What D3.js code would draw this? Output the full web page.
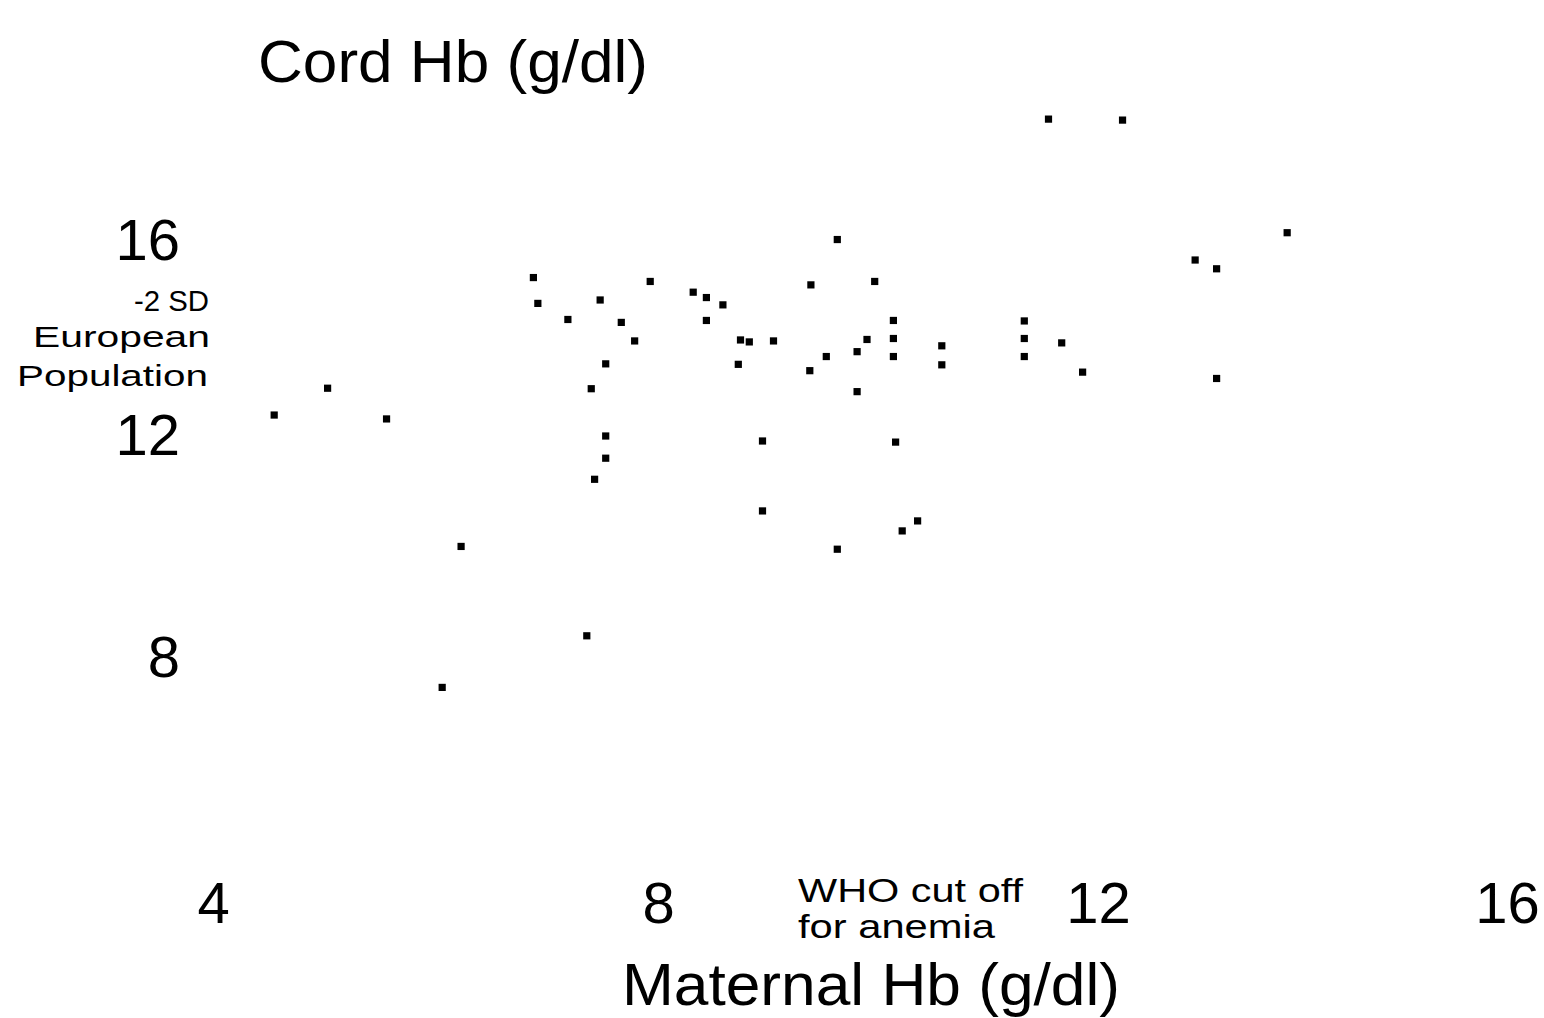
<!DOCTYPE html>
<html>
<head>
<meta charset="utf-8">
<script src="https://cdn.jsdelivr.net/npm/d3@7"></script>
<style>
  html, body { margin: 0; padding: 0; background: #fff; }
  svg { display: block; font-family: "Liberation Sans", Arial, Helvetica, sans-serif; }
</style>
</head>
<body>
<svg id="chart" width="1544" height="1018"></svg>
<script>
// Maternal vs cord haemoglobin (g/dl)
const maternalHb = [
  6.88, 6.92, 7.19, 7.48, 7.93, 7.67, 7.79, 7.53, 7.40, 7.53,
  7.53, 7.43, 8.32, 8.44, 8.59, 8.44, 8.75, 8.83, 9.05, 8.73,
  8.95, 9.39, 9.97, 10.14, 9.90, 10.14, 9.53, 9.81, 10.14, 9.38,
  9.81, 10.16, 10.58, 10.58, 11.33, 11.33, 11.33, 11.67, 11.86, 11.55,
  12.24, 13.85, 12.95, 13.16, 13.16, 5.03, 4.55, 5.56, 6.23, 7.36,
  6.06, 8.95, 9.63, 10.22, 10.36, 9.63
];
const cordHb = [
  15.25, 14.72, 14.39, 14.79, 15.17, 14.33, 13.95, 13.48, 12.97, 12.00,
  11.60, 11.22, 14.95, 14.84, 14.69, 14.37, 13.97, 13.93, 13.95, 13.47,
  11.91, 15.10, 15.17, 14.37, 13.98, 14.00, 13.63, 13.73, 13.63, 13.34,
  12.91, 11.89, 13.85, 13.46, 14.36, 14.00, 13.63, 13.91, 13.31, 18.50,
  18.48, 16.17, 15.61, 15.43, 13.18, 12.98, 12.43, 12.35, 10.01, 8.40,
  7.47, 10.65, 9.96, 10.29, 10.47, 16.03
];

const xTicks = [4, 8, 12, 16];
const yTicks = [8, 12, 16];
const xTitle = "Maternal Hb (g/dl)";
const yTitle = "Cord Hb (g/dl)";
const yNote = ["-2 SD", "European", "Population"];
const xNote = ["WHO cut off", "for anemia"];

const data = maternalHb.map((m, i) => ({ m: m, c: cordHb[i] }));

const svg = d3.select('#chart');

// the printed axis is not quite evenly spaced, so anchor the scale at each tick
const x = d3.scaleLinear()
    .domain(xTicks)
    .range([213, 658, 1098, 1507]);

const y = d3.scaleLinear()
    .domain(yTicks)
    .range([658, 436, 241]);

// x axis: labels only, no line or tick marks
const xAxis = svg.append('g')
    .attr('transform', 'translate(0,882)')
    .call(d3.axisBottom(x).tickValues(xTicks).tickSize(0).tickPadding(0).tickFormat(d3.format('d')));
xAxis.select('.domain').remove();
xAxis.selectAll('text')
    .attr('font-size', 58)
    .attr('fill', '#000')
    .attr('font-family', null);

// y axis: labels only
const yAxis = svg.append('g')
    .attr('transform', 'translate(183,0)')
    .call(d3.axisLeft(y).tickValues(yTicks).tickSize(0).tickPadding(3).tickFormat(d3.format('d')));
yAxis.select('.domain').remove();
yAxis.selectAll('text')
    .attr('font-size', 58)
    .attr('fill', '#000')
    .attr('font-family', null);

// axis titles (scan type is set wide, so stretch to the printed width)
svg.append('text')
    .attr('x', 258)
    .attr('y', 82)
    .attr('font-size', 59)
    .attr('textLength', 390)
    .attr('lengthAdjust', 'spacingAndGlyphs')
    .text(yTitle);

svg.append('text')
    .attr('x', 622)
    .attr('y', 1005)
    .attr('font-size', 59)
    .attr('textLength', 498)
    .attr('lengthAdjust', 'spacingAndGlyphs')
    .text(xTitle);

// reference notes
const yNotePos = [
  { x: 134, y: 311, w: 75 },
  { x: 33,  y: 347, w: 177 },
  { x: 17,  y: 386, w: 191 }
];
yNote.forEach((t, i) => {
    svg.append('text')
        .attr('x', yNotePos[i].x)
        .attr('y', yNotePos[i].y)
        .attr('font-size', 29)
        .attr('textLength', yNotePos[i].w)
        .attr('lengthAdjust', 'spacingAndGlyphs')
        .text(t);
});

const xNotePos = [
  { x: 798, y: 902, w: 225 },
  { x: 798, y: 938, w: 197 }
];
xNote.forEach((t, i) => {
    svg.append('text')
        .attr('x', xNotePos[i].x)
        .attr('y', xNotePos[i].y)
        .attr('font-size', 33)
        .attr('textLength', xNotePos[i].w)
        .attr('lengthAdjust', 'spacingAndGlyphs')
        .text(t);
});

// points
svg.append('g')
    .selectAll('path')
    .data(data)
    .enter()
    .append('path')
    .attr('transform', d => `translate(${x(d.m)},${y(d.c)})`)
    .attr('d', d3.symbol().type(d3.symbolSquare).size(52))
    .attr('fill', '#000');
</script>
</body>
</html>
